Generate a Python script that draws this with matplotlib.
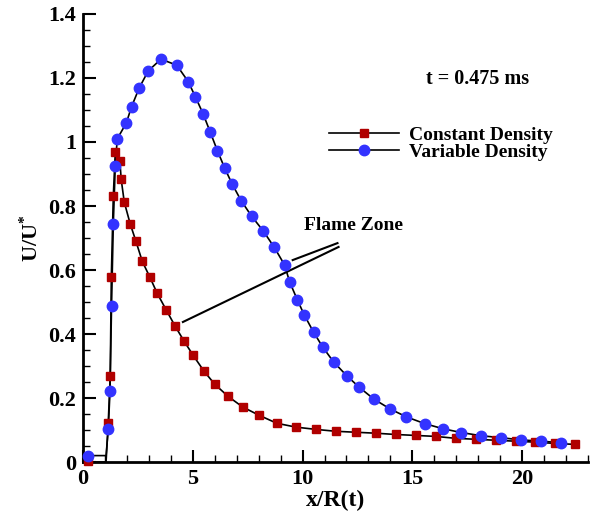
import matplotlib
matplotlib.use("Agg")
import matplotlib.pyplot as plt
from matplotlib.ticker import MultipleLocator, FormatStrFormatter

# Constant density (red squares)
x_const = [0.24, 1.15, 1.24, 1.29, 1.38, 1.47, 1.68, 1.74, 1.88, 2.15, 2.40, 2.70,
           3.05, 3.38, 3.80, 4.20, 4.61, 5.02, 5.51, 6.00, 6.61, 7.27, 8.02, 8.83,
           9.70, 10.59, 11.51, 12.42, 13.33, 14.24, 15.15, 16.06, 16.97, 17.88,
           18.79, 19.70, 20.60, 21.50, 22.42]
y_const = [0.004, 0.123, 0.270, 0.577, 0.831, 0.968, 0.940, 0.883, 0.812, 0.744, 0.692,
           0.627, 0.577, 0.527, 0.474, 0.424, 0.377, 0.333, 0.284, 0.243, 0.205,
           0.172, 0.146, 0.121, 0.109, 0.102, 0.096, 0.093, 0.090, 0.086, 0.083,
           0.080, 0.074, 0.071, 0.068, 0.065, 0.062, 0.058, 0.055]

# Variable density (blue circles)
x_var = [0.24, 1.15, 1.23, 1.30, 1.38, 1.47, 1.56, 1.97, 2.21, 2.56, 2.97, 3.55,
         4.27, 4.79, 5.12, 5.47, 5.80, 6.12, 6.45, 6.79, 7.20, 7.68, 8.20, 8.70,
         9.18, 9.41, 9.76, 10.08, 10.50, 10.91, 11.41, 12.02, 12.59, 13.24, 13.98,
         14.73, 15.56, 16.39, 17.23, 18.14, 19.03, 19.95, 20.88, 21.79]
y_var = [0.020, 0.102, 0.222, 0.487, 0.743, 0.926, 1.010, 1.059, 1.110, 1.169,
         1.222, 1.259, 1.240, 1.189, 1.141, 1.088, 1.030, 0.973, 0.919, 0.869,
         0.817, 0.768, 0.723, 0.672, 0.616, 0.563, 0.507, 0.459, 0.406, 0.360,
         0.313, 0.269, 0.233, 0.197, 0.166, 0.141, 0.120, 0.104, 0.092, 0.082,
         0.076, 0.069, 0.065, 0.060]

# flat inlet part of the curves (x = 0 and end of flat part)
x_inlet = [0.0, 1.05]
y_inlet_const = 0.0
y_inlet_var = 0.02

plt.rcParams['font.family'] = ['Liberation Serif', 'DejaVu Serif']
plt.rcParams['font.weight'] = 'bold'
plt.rcParams['mathtext.fontset'] = 'custom'
plt.rcParams['mathtext.rm'] = 'Liberation Serif:bold'
plt.rcParams['mathtext.it'] = 'Liberation Serif:bold'
plt.rcParams['mathtext.bf'] = 'Liberation Serif:bold'

fig = plt.figure(figsize=(5.96, 5.18), dpi=100)
ax = fig.add_axes([83 / 596, 1 - 462 / 518, (588 - 83) / 596, (462 - 14) / 518])

red = '#b00000'
blue = '#3333ff'

# curves: flat inlet segment, then through the sampled points
xl_const = [x_inlet[0], x_inlet[1]] + x_const[1:]
yl_const = [y_inlet_const, y_inlet_const] + y_const[1:]
xl_var = [x_inlet[0], x_inlet[1]] + x_var[1:]
yl_var = [y_inlet_var, y_inlet_var] + y_var[1:]
ax.plot(xl_const, yl_const, color='black', lw=1.2, zorder=2, clip_on=False)
ax.plot(xl_var, yl_var, color='black', lw=1.2, zorder=2)
ax.plot(x_const, y_const, 's', color=red, ms=5.5, zorder=3, clip_on=False)
ax.plot(x_var, y_var, 'o', color=blue, ms=7.5, zorder=3, clip_on=False)

# legend handles
h1, = ax.plot([], [], '-s', color='black', mfc=red, mec=red, ms=5.5, lw=1.2)
h2, = ax.plot([], [], '-o', color='black', mfc=blue, mec=blue, ms=7.5, lw=1.2)
fig.legend([h1, h2], ['Constant Density', 'Variable Density'],
           loc='center left', bbox_to_anchor=(329 / 596, 1 - 143.5 / 518),
           bbox_transform=fig.transFigure, frameon=False, numpoints=1,
           handlelength=3.6, handletextpad=0.5, labelspacing=0.0,
           borderpad=0, borderaxespad=0, prop={'size': 14, 'weight': 'bold'})

# flame zone annotation
ax.plot([11.59, 9.55], [0.684, 0.631], color='black', lw=1.5)
ax.plot([11.64, 4.55], [0.672, 0.4375], color='black', lw=1.5)
ax.text(10.05, 0.74, 'Flame Zone', fontsize=14, fontweight='bold', ha='left', va='center')

fig.text(478 / 596, 1 - 79 / 518, 't = 0.475 ms', fontsize=14.5, fontweight='bold',
         ha='center', va='center')

ax.set_xlim(0, 23)
ax.set_ylim(0, 1.4)
ax.spines['top'].set_visible(False)
ax.spines['right'].set_visible(False)
ax.spines['left'].set_linewidth(2)
ax.spines['bottom'].set_linewidth(2)

ax.xaxis.set_major_locator(MultipleLocator(5))
ax.xaxis.set_minor_locator(MultipleLocator(1))
ax.yaxis.set_major_locator(MultipleLocator(0.2))
ax.yaxis.set_minor_locator(MultipleLocator(0.05))
ax.yaxis.set_major_formatter(FormatStrFormatter('%g'))
ax.tick_params(which='major', direction='in', length=9, width=1.5, labelsize=16, pad=5)
ax.tick_params(which='minor', direction='in', length=5, width=1)

ax.set_xlabel('x/R(t)', fontsize=17, fontweight='bold', labelpad=1)
ax.set_ylabel(r'U/U$^{*}$', fontsize=16, fontweight='bold', labelpad=4)

fig.savefig('out.png', dpi=100)
